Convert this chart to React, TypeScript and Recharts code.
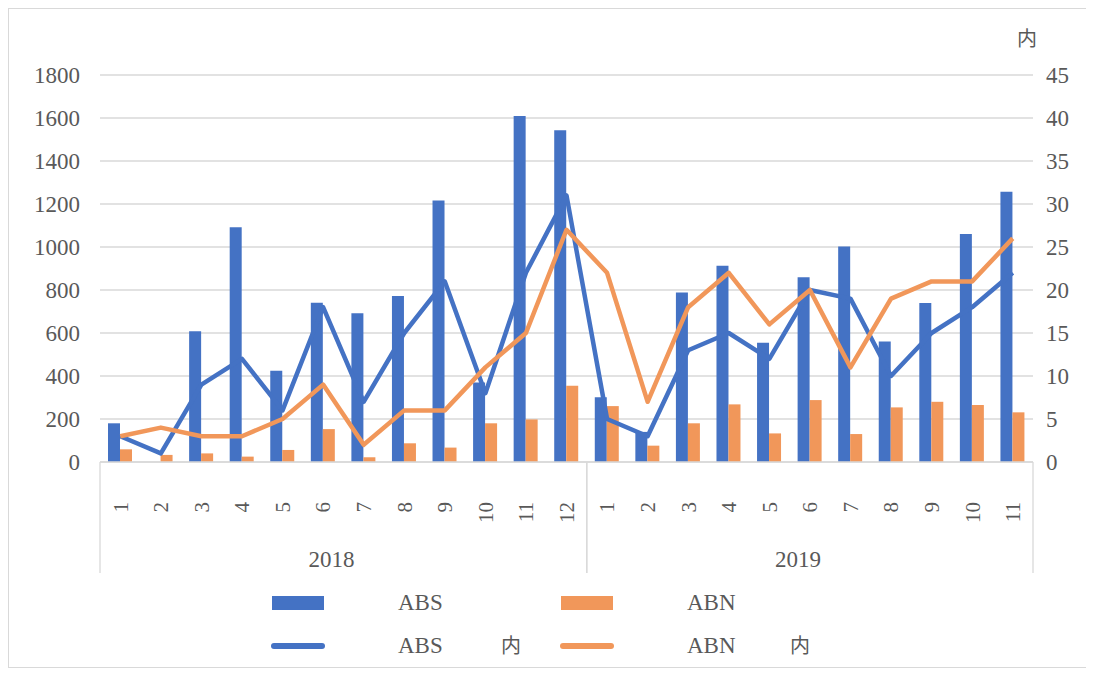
import React from 'react';
import {
  ComposedChart,
  Bar,
  Line,
  XAxis,
  YAxis,
  CartesianGrid,
} from 'recharts';

// categories
const years = ['2018', '2019'];
const months2018 = ['1', '2', '3', '4', '5', '6', '7', '8', '9', '10', '11', '12'];
const months2019 = ['1', '2', '3', '4', '5', '6', '7', '8', '9', '10', '11'];

// left axis (bars)
const absCount = [180, 0, 608, 1092, 425, 741, 692, 772, 1216, 370, 1609, 1543,
  301, 140, 788, 913, 555, 859, 1002, 560, 740, 1060, 1257];
const abnCount = [59, 33, 40, 25, 56, 153, 22, 87, 67, 180, 198, 355,
  260, 76, 180, 268, 133, 288, 130, 254, 280, 265, 231];

// right axis (lines)
const absInner = [3, 1, 9, 12, 6, 18, 7, 15, 21, 8, 22, 31,
  5, 3, 13, 15, 12, 20, 19, 10, 15, 18, 22];
const abnInner = [3, 4, 3, 3, 5, 9, 2, 6, 6, 11, 15, 27,
  22, 7, 18, 22, 16, 20, 11, 19, 21, 21, 26];

const leftTicks = [0, 200, 400, 600, 800, 1000, 1200, 1400, 1600, 1800];
const rightTicks = [0, 5, 10, 15, 20, 25, 30, 35, 40, 45];

const BLUE = '#4472C4';
const ORANGE = '#F1975A';
const GRID = '#d9d9d9';
const TEXT = '#595959';
const FONT = "'Liberation Serif', 'Times New Roman', 'Noto Sans CJK SC', serif";

const monthGroups = [months2018, months2019];
const rows = monthGroups.flatMap((ms, yi) =>
  ms.map((m) => ({ year: years[yi], month: m }))
).map((r, i) => ({
  key: `${r.year}-${r.month}`,
  year: r.year,
  month: r.month,
  abs: absCount[i],
  abn: abnCount[i],
  absIn: absInner[i],
  abnIn: abnInner[i],
}));

const W = 1078;
const H = 658;
const LEFT_W = 91;
const RIGHT_W = 54;
const TOP = 66;
const X_AXIS_H = 120;
const BOTTOM = 85;
const PLOT_W = W - LEFT_W - RIGHT_W;

const CategoryTick = (props: any) => {
  const { x, y, payload } = props;
  const i = payload.index;
  const row = rows[i];
  const bw = PLOT_W / rows.length;
  const isFirst = i === 0 || rows[i - 1].year !== row.year;
  const isLast = i === rows.length - 1 || rows[i + 1].year !== row.year;
  const count = rows.filter((r) => r.year === row.year).length;
  return (
    <g>
      <text
        transform={`translate(${x},${y + 40}) rotate(-90)`}
        textAnchor="end"
        dy="0.35em"
        fill={TEXT}
        fontSize={21}
        fontFamily={FONT}
      >
        {row.month}
      </text>
      {isFirst && (
        <line x1={x - bw / 2} x2={x - bw / 2} y1={y} y2={y + 111} stroke={GRID} strokeWidth={1.3} />
      )}
      {isLast && (
        <line x1={x + bw / 2} x2={x + bw / 2} y1={y} y2={y + 111} stroke={GRID} strokeWidth={1.3} />
      )}
      {isLast && (
        <text
          x={x + bw / 2 - (count * bw) / 2 - 12}
          y={y + 105}
          textAnchor="middle"
          fill={TEXT}
          fontSize={23}
          fontFamily={FONT}
        >
          {row.year}
        </text>
      )}
    </g>
  );
};

const legendItems = [
  { name: 'ABS', suffix: '', color: BLUE, kind: 'rect' },
  { name: 'ABN', suffix: '', color: ORANGE, kind: 'rect' },
  { name: 'ABS', suffix: '内', color: BLUE, kind: 'line' },
  { name: 'ABN', suffix: '内', color: ORANGE, kind: 'line' },
];

const Legend = () => (
  <div style={{ position: 'absolute', left: 0, top: 0, width: W, height: H, pointerEvents: 'none' }}>
    {legendItems.map((it, i) => {
      const col = i % 2;
      const rowIdx = Math.floor(i / 2);
      const left = 263 + col * 289;
      const cy = 594 + rowIdx * 43;
      return (
        <div key={i}>
          <div
            style={{
              position: 'absolute',
              left: it.kind === 'rect' ? left : left - 1,
              top: it.kind === 'rect' ? cy - 7 : cy - 3,
              width: it.kind === 'rect' ? 52 : 54,
              height: it.kind === 'rect' ? 14 : 6,
              borderRadius: it.kind === 'rect' ? 0 : 3,
              background: it.color,
            }}
          />
          <span
            style={{
              position: 'absolute',
              left: left + 126,
              top: cy - 14,
              fontSize: 23,
              lineHeight: '28px',
              color: TEXT,
              fontFamily: FONT,
            }}
          >
            {it.name}
          </span>
          {it.suffix && (
            <span
              style={{
                position: 'absolute',
                left: left + 229,
                top: cy - 14,
                fontSize: 20,
                lineHeight: '28px',
                color: TEXT,
                fontFamily: FONT,
              }}
            >
              {it.suffix}
            </span>
          )}
        </div>
      );
    })}
  </div>
);

export default function App() {
  return (
    <div
      style={{
        position: 'relative',
        width: W,
        height: H,
        border: `1px solid ${GRID}`,
        background: '#fff',
        fontFamily: FONT,
      }}
    >
      <ComposedChart
        width={W}
        height={H}
        data={rows}
        margin={{ top: TOP, right: 0, left: 0, bottom: BOTTOM }}
        barGap={0}
      >
        <CartesianGrid vertical={false} stroke={GRID} strokeWidth={1.3} yAxisId="left" />
        <XAxis
          dataKey="key"
          interval={0}
          height={X_AXIS_H}
          tickLine={false}
          tickSize={0}
          tickMargin={0}
          axisLine={{ stroke: GRID, strokeWidth: 1.3 }}
          tick={<CategoryTick />}
        />
        <YAxis
          yAxisId="left"
          orientation="left"
          width={LEFT_W}
          domain={[0, 1800]}
          ticks={leftTicks}
          interval={0}
          axisLine={false}
          tickLine={false}
          tickSize={0}
          tickMargin={20}
          tick={{ fill: TEXT, fontSize: 23, fontFamily: FONT }}
        />
        <YAxis
          yAxisId="right"
          orientation="right"
          width={RIGHT_W}
          domain={[0, 45]}
          ticks={rightTicks}
          interval={0}
          axisLine={false}
          tickLine={false}
          tickSize={0}
          tickMargin={13}
          tick={{ fill: TEXT, fontSize: 23, fontFamily: FONT, textAnchor: 'start' }}
        />
        <Bar yAxisId="left" dataKey="abs" name="ABS" fill={BLUE} barSize={12} isAnimationActive={false} />
        <Bar yAxisId="left" dataKey="abn" name="ABN" fill={ORANGE} barSize={12} isAnimationActive={false} />
        <Line
          yAxisId="right"
          type="linear"
          dataKey="absIn"
          name="ABS内"
          stroke={BLUE}
          strokeWidth={4.5}
          strokeLinejoin="round"
          dot={false}
          activeDot={false}
          isAnimationActive={false}
        />
        <Line
          yAxisId="right"
          type="linear"
          dataKey="abnIn"
          name="ABN内"
          stroke={ORANGE}
          strokeWidth={4.5}
          strokeLinejoin="round"
          dot={false}
          activeDot={false}
          isAnimationActive={false}
        />
      </ComposedChart>
      <span
        style={{
          position: 'absolute',
          left: 1008,
          top: 17,
          fontSize: 20,
          lineHeight: '26px',
          color: TEXT,
          fontFamily: FONT,
        }}
      >
        内
      </span>
      <Legend />
    </div>
  );
}
